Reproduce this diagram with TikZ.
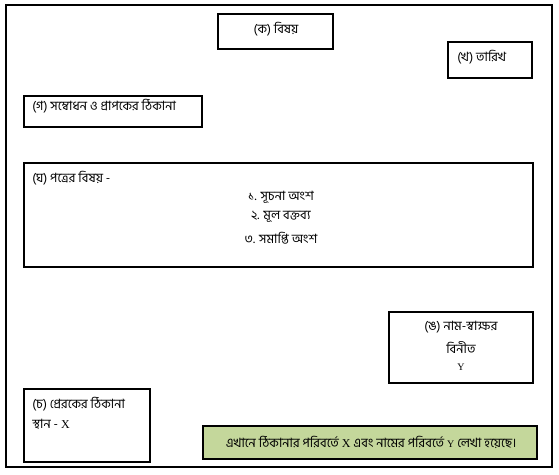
\documentclass[tikz,border=0pt]{standalone}
\usepackage{fontspec}
\setmainfont{Liberation Serif}
\newfontfamily\bn[Script=Bengali]{Hind Siliguri}
\usetikzlibrary{fit}
\definecolor{notegreen}{RGB}{196,215,155}
\tikzset{
  x=0.75pt, y=-0.75pt,
  box/.style={draw=black, line width=0.8pt, inner sep=0pt, rectangle},
  frame/.style={draw=black, line width=1pt, inner sep=0pt, rectangle},
  txt/.style={inner sep=0pt, font=\bn\fontsize{9.6}{11}\selectfont},
}
\newcommand{\lat}[1]{{\rmfamily\fontsize{9}{11}\selectfont #1}}
\newcommand{\latsm}[1]{{\rmfamily\fontsize{7.5}{9}\selectfont #1}}
\begin{document}
\begin{tikzpicture}
\useasboundingbox (0,0) rectangle (559,474);
\node[frame, fit={(6,5) (552,467)}] (outer) {};
\node[box, fit={(218,14) (333,49)}] (k) {};
\node[box, fit={(448,42) (532,78)}] (kh) {};
\node[box, fit={(24,96) (202,127)}] (g) {};
\node[box, fit={(24,163) (533,267)}] (gh) {};
\node[box, fit={(389,312) (533,383)}] (ng) {};
\node[box, fit={(24,389) (150,462)}] (ch) {};
\node[box, fill=notegreen, fit={(203,426) (537,459)}] (note) {};

\node[txt] (kt) at (276,29) {(ক) বিষয়};
\node[txt, anchor=west] (kht) at (457,57) {(খ) তারিখ};
\node[txt, anchor=west] (gt) at (32,106) {(গ) সম্বোধন ও প্রাপকের ঠিকানা};
\node[txt, anchor=west] (ght) at (32,178) {(ঘ) পত্রের বিষয় -};
\node[txt] (l1) at (281,197) {১. সূচনা অংশ};
\node[txt] (l2) at (281,217) {২. মূল বক্তব্য};
\node[txt] (l3) at (281,238) {৩. সমাপ্তি অংশ};
\node[txt] (ngt) at (461,327) {(ঙ) নাম-স্বাক্ষর};
\node[txt] (binit) at (461,347) {বিনীত};
\node[txt] (yt) at (461,367) {\latsm{Y}};
\node[txt, anchor=west] (cht) at (32,404) {(চ) প্রেরকের ঠিকানা};
\node[txt, anchor=west] (sthan) at (32,424) {স্থান - \lat{X}};
\node[txt] (notet) at (371,442) {এখানে ঠিকানার পরিবর্তে \lat{X} এবং নামের পরিবর্তে \latsm{Y} লেখা হয়েছে।};
\end{tikzpicture}
\end{document}
